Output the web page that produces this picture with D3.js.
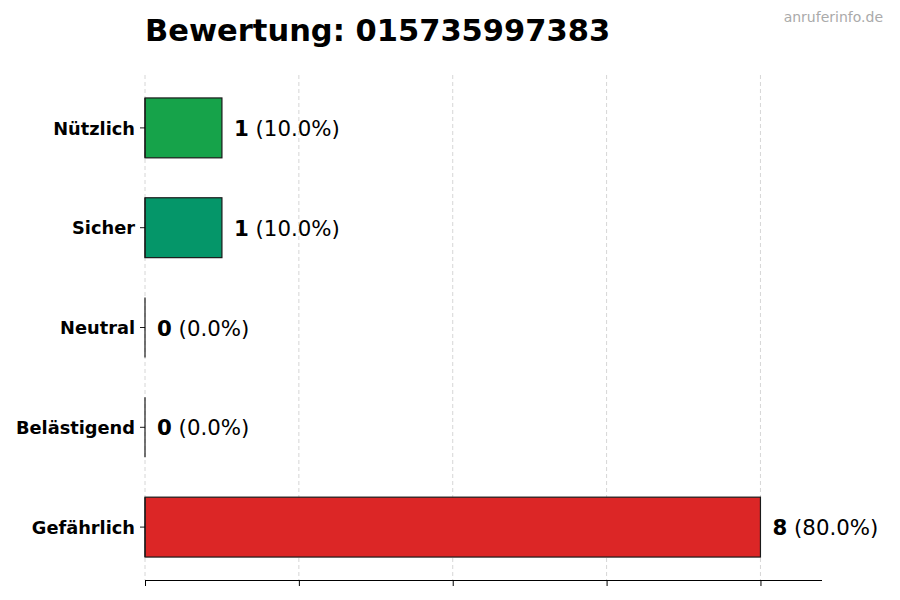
<!DOCTYPE html>
<html><head><meta charset="utf-8">
<script src="https://cdn.jsdelivr.net/npm/d3@7"></script>
<style>body{margin:0;background:#fff}svg{display:block;font-family:"DejaVu Sans",sans-serif}</style>
</head><body><svg id="c" width="900" height="600"></svg>
<script>
const categories = ["Nützlich","Sicher","Neutral","Belästigend","Gefährlich"];
const counts = [1,1,0,0,8];
const percents = ["10.0%","10.0%","0.0%","0.0%","80.0%"];
const colors = ["#16a34a","#059669","#6b7280","#f59e0b","#dc2626"];
const xTicks = [0,2,4,6,8];
const title = "Bewertung: 015735997383";
const watermark = "anruferinfo.de";

const svg = d3.select("#c");
const pLeft = 145, pRight = 822, pTop = 75, pBottom = 580;
const x = d3.scaleLinear().domain([0, 8.8]).range([pLeft, pRight]);
const y = d3.scaleLinear().domain([4.53, -0.53]).range([pTop, pBottom]);
const pos = i => categories.length - 1 - i;

// grid
svg.append("g").selectAll("line").data(xTicks).join("line")
  .attr("x1", d => x(d)).attr("x2", d => x(d)).attr("y1", pTop).attr("y2", pBottom)
  .attr("stroke", "#cccccc").attr("stroke-width", 0.8).attr("stroke-dasharray", "4,3");

// bars
svg.append("g").selectAll("rect").data(counts).join("rect")
  .attr("x", x(0)).attr("width", d => x(d) - x(0))
  .attr("y", (d, i) => y(pos(i) + 0.3)).attr("height", (d, i) => y(pos(i) - 0.3) - y(pos(i) + 0.3))
  .attr("fill", (d, i) => colors[i]).attr("stroke", "#1a1a1a").attr("stroke-width", 1.2);
// bar base edges (visible also for zero-width bars)
svg.append("g").selectAll("line").data(counts).join("line")
  .attr("x1", x(0)).attr("x2", x(0))
  .attr("y1", (d, i) => y(pos(i) + 0.3)).attr("y2", (d, i) => y(pos(i) - 0.3))
  .attr("stroke", "#1a1a1a").attr("stroke-width", 1.2);

// value labels
const lbl = svg.append("g").selectAll("text").data(counts).join("text")
  .attr("x", d => x(d) + 12).attr("y", (d, i) => y(pos(i)))
  .attr("dy", "0.38em").attr("font-size", 21.3).attr("fill", "#000");
lbl.append("tspan").attr("font-weight", "bold").text(d => d);
lbl.append("tspan").text((d, i) => " (" + percents[i] + ")");

// y axis labels + ticks
const ya = svg.append("g");
ya.selectAll("line").data(categories).join("line")
  .attr("x1", pLeft - 5).attr("x2", pLeft).attr("y1", (d, i) => y(pos(i))).attr("y2", (d, i) => y(pos(i)))
  .attr("stroke", "#000").attr("stroke-width", 0.9);
ya.selectAll("text").data(categories).join("text")
  .attr("x", pLeft - 10).attr("y", (d, i) => y(pos(i))).attr("dy", "0.38em")
  .attr("text-anchor", "end").attr("font-weight", "bold").attr("font-size", 17.8).text(d => d);

// x axis
const xa = svg.append("g").attr("transform", `translate(0,${pBottom})`)
  .call(d3.axisBottom(x).tickValues(xTicks).tickSize(6).tickFormat(""));
xa.select(".domain").attr("d", `M${pLeft},0.5H${pRight}`).attr("stroke", "#000").attr("stroke-width", 1.2);
xa.selectAll(".tick line").attr("stroke", "#000").attr("stroke-width", 1);

// title
svg.append("text").attr("x", pLeft).attr("y", 41).attr("font-size", 30.5).attr("font-weight", "bold").text(title);
svg.append("text").attr("x", 883).attr("y", 22).attr("text-anchor", "end").attr("font-size", 14).attr("fill", "#aaaaaa").text(watermark);
</script></body></html>
